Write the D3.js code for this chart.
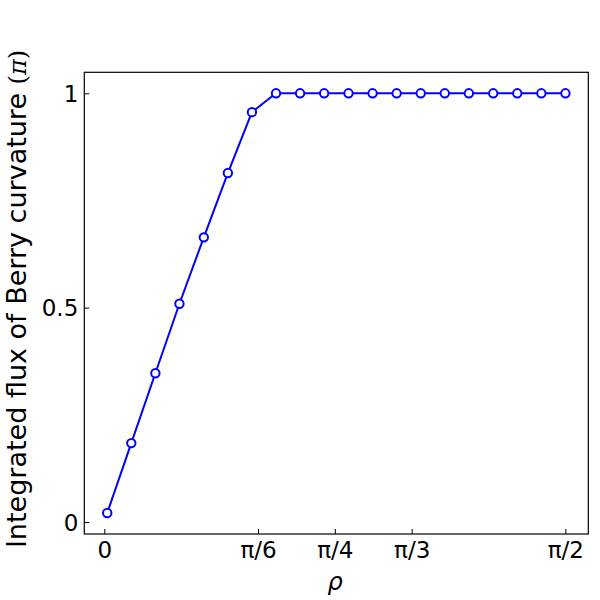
<!DOCTYPE html>
<html><head><meta charset="utf-8">
<script src="https://cdn.jsdelivr.net/npm/d3@7"></script>
<style>body{margin:0;background:#fff}svg{display:block}text{font-family:"DejaVu Sans",sans-serif}</style>
</head><body><svg id="c" width="600" height="600"></svg>
<script>
const rhoValues = [0.010, 0.092, 0.174, 0.256, 0.339, 0.421, 0.503, 0.585, 0.667, 0.749,
                   0.832, 0.914, 0.996, 1.078, 1.160, 1.242, 1.325, 1.407, 1.489, 1.571];
const fluxValues = [0.021, 0.184, 0.347, 0.509, 0.664, 0.814, 0.956, 1.0, 1.0, 1.0,
                    1.0, 1.0, 1.0, 1.0, 1.0, 1.0, 1.0, 1.0, 1.0, 1.0];
const xTickValues = [0, Math.PI/6, Math.PI/4, Math.PI/3, Math.PI/2];
const xTickLabels = ["0", "π/6", "π/4", "π/3", "π/2"];
const yTickValues = [0, 0.5, 1];
const yTickLabels = ["0", "0.5", "1"];

const L = 84.3, R = 588.3, T = 72.3, B = 534;
const svg = d3.select("#c");
const x = d3.scaleLinear().domain([-0.0681, 1.6489]).range([L, R]);
const y = d3.scaleLinear().domain([-0.0280, 1.0490]).range([B, T]);

const xAxis = d3.axisBottom(x).tickValues(xTickValues).tickFormat((d,i)=>xTickLabels[i]).tickSizeInner(-5).tickSizeOuter(0);
const yAxis = d3.axisLeft(y).tickValues(yTickValues).tickFormat((d,i)=>yTickLabels[i]).tickSizeInner(-5).tickSizeOuter(0);

const gx = svg.append("g").attr("transform", `translate(0,${B})`).call(xAxis);
const gy = svg.append("g").attr("transform", `translate(${L},0)`).call(yAxis);
[gx, gy].forEach(g => {
  g.select(".domain").remove();
  g.selectAll(".tick line").attr("stroke", "#000").attr("stroke-width", 1);
  g.selectAll(".tick text").attr("fill", "#000").style("font-size", "23px").style("font-family", '"DejaVu Sans", sans-serif');
});
gx.selectAll(".tick text").attr("dy", 0).attr("y", 24);
gy.selectAll(".tick text").attr("x", -6).attr("dy", "0.36em");

svg.append("rect").attr("x", L).attr("y", T).attr("width", R-L).attr("height", B-T)
  .attr("fill", "none").attr("stroke", "#000").attr("stroke-width", 1.2);

const line = d3.line().x((d,i)=>x(rhoValues[i])).y(d=>y(d));
svg.append("path").datum(fluxValues).attr("d", line).attr("fill", "none")
  .attr("stroke", "#0000ff").attr("stroke-width", 2);
svg.selectAll("circle.pt").data(fluxValues).enter().append("circle")
  .attr("class", "pt").attr("cx", (d,i)=>x(rhoValues[i])).attr("cy", d=>y(d))
  .attr("r", 4.2).attr("fill", "#fff").attr("stroke", "#0000ff").attr("stroke-width", 2);

svg.append("text").attr("x", 335).attr("y", 590).attr("text-anchor", "middle")
  .style("font-size", "24px").style("font-style", "italic").text("ρ");

const yl = svg.append("text").attr("transform", `translate(25.5,299) rotate(-90)`)
  .attr("text-anchor", "middle").style("font-size", "27px");
yl.append("tspan").text("Integrated flux of Berry curvature ");
yl.append("tspan").style("font-family", '"DejaVu Serif", serif').style("font-size", "24px").text("(");
yl.append("tspan").style("font-family", '"DejaVu Serif", serif').style("font-style", "italic").style("font-size", "24px").text("π");
yl.append("tspan").style("font-family", '"DejaVu Serif", serif').style("font-size", "24px").text(")");
</script></body></html>
